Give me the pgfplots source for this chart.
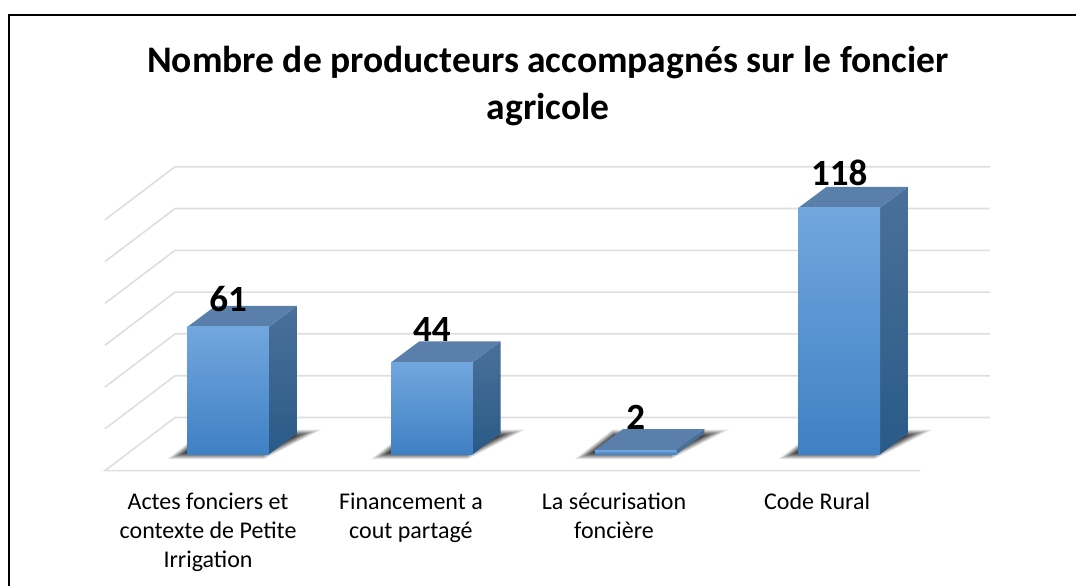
\documentclass[border=0pt]{standalone}
\usepackage{fontspec}
\setmainfont{Carlito}
\usepackage{pgfplots}
\pgfplotsset{compat=1.18}
\usepackage{pgfplotstable}
\definecolor{gridc}{HTML}{DEDEDE}
\definecolor{frontT}{HTML}{72A7DE}
\definecolor{frontM}{HTML}{5498DC}
\definecolor{frontB}{HTML}{3F80C4}
\definecolor{sideT}{HTML}{4A7099}
\definecolor{sideB}{HTML}{2A5A88}
\definecolor{topc}{HTML}{5A7FAA}
\pgfplotstableread{
x y
-0.185 1.5
-0.100 8
0.295 8
0.165 1.5
}\ombre
\newcommand{\shadowlayer}[3]{%
  \addplot[draw=black,draw opacity=#3,line width=#2pt,line join=miter,miter limit=10] table[x expr=\thisrow{x}+#1,y=y]{\ombre} --cycle;
}
\newcommand{\shadowat}[1]{%
  \shadowlayer{#1}{16}{.10}
  \shadowlayer{#1}{14}{.13}
  \shadowlayer{#1}{12}{.16}
  \shadowlayer{#1}{10}{.19}
  \shadowlayer{#1}{8}{.21}
  \shadowlayer{#1}{6}{.23}
  \shadowlayer{#1}{4}{.25}
  \shadowlayer{#1}{2}{.27}
  \addplot[draw=none,fill=black!80,fill opacity=.85] table[x expr=\thisrow{x}+#1,y=y]{\ombre} --cycle;
}
\pgfplotsset{
  frontbar/.style={ybar,bar width=0.4,bar shift=0pt,draw=none,shade,top color=frontT,middle color=frontM,bottom color=frontB,
    nodes near coords={\fontsize{37}{37}\selectfont\bfseries\pgfmathprintnumber[assume math mode=true]{\pgfplotspointmeta}},
    every node near coord/.append style={text=black,anchor=center,inner sep=0pt,yshift=#1}}
}
\begin{document}
\begin{tikzpicture}[x=1pt,y=1pt]
\path[use as bounding box] (0,0) rectangle (1076,586);
\begin{axis}[
  at={(0,0)},anchor=south west,
  width=1076pt,height=586pt,scale only axis,
  xmin=-1.1203,xmax=4.1620,ymin=-63.01,ymax=217.37,
  clip=false,
  axis line style={draw=none},
  tick style={draw=none},
  ytick=\empty,
  xtick={-0.099,0.897,1.894,2.891},
  xticklabels={{Actes fonciers et\\contexte de Petite\\Irrigation},{Financement a\\cout partagé},{La sécurisation\\foncière},{Code Rural}},
  xticklabel style={font={\fontsize{24}{29}\selectfont},align=flush center,text width=195pt,anchor=north,yshift=97pt},
  title={Nombre de producteurs accompagnés sur le foncier\\agricole},
  title style={at={(0.5093,1)},anchor=north,yshift=-49pt,align=flush center,text width=1000pt,font={\bfseries\fontsize{37.5}{47}\selectfont}},
]
\pgfplotsset{every axis plot/.append style={forget plot}}
% grid walls
\addplot[gridc,line width=1.6pt] coordinates {(-0.605,112.2)(-0.261,137.6)(3.739,137.6)};
\addplot[gridc,line width=1.6pt] coordinates {(-0.605,92.2)(-0.261,117.6)(3.739,117.6)};
\addplot[gridc,line width=1.6pt] coordinates {(-0.605,72.2)(-0.261,97.6)(3.739,97.6)};
\addplot[gridc,line width=1.6pt] coordinates {(-0.605,52.2)(-0.261,77.6)(3.739,77.6)};
\addplot[gridc,line width=1.6pt] coordinates {(-0.605,32.2)(-0.261,57.6)(3.739,57.6)};
\addplot[gridc,line width=1.6pt] coordinates {(-0.605,12.2)(-0.261,37.6)(3.739,37.6)};
\addplot[gridc,line width=1.6pt] coordinates {(3.396,-7.8)(-0.605,-7.8)(-0.261,17.6)(3.739,17.6)};
% shadows
\shadowat{0}
\shadowat{1}
\shadowat{2}
\shadowat{3}
% side faces
\addplot[draw=none,shade,top color=sideT,bottom color=sideB] coordinates {(0.2,0)(0.2,61)(0.3375,71)(0.3375,10)} --cycle;
\addplot[draw=none,shade,top color=sideT,bottom color=sideB] coordinates {(1.2,0)(1.2,44)(1.3375,54)(1.3375,10)} --cycle;
\addplot[draw=none,fill=sideT] coordinates {(2.2,0)(2.2,2)(2.3375,12)(2.3375,10)} --cycle;
\addplot[draw=none,shade,top color=sideT,bottom color=sideB] coordinates {(3.2,0)(3.2,118)(3.3375,128)(3.3375,10)} --cycle;
% top faces
\addplot[draw=none,fill=topc] coordinates {(-0.2,61)(0.2,61)(0.3375,71)(-0.0625,71)} --cycle;
\addplot[draw=none,fill=topc] coordinates {(0.8,44)(1.2,44)(1.3375,54)(0.9375,54)} --cycle;
\addplot[draw=none,fill=topc] coordinates {(1.8,2)(2.2,2)(2.3375,12)(1.9375,12)} --cycle;
\addplot[draw=none,fill=topc] coordinates {(2.8,118)(3.2,118)(3.3375,128)(2.9375,128)} --cycle;
% front faces
\addplot[frontbar=28pt] coordinates {(0,61)};
\addplot[frontbar=33pt] coordinates {(1,44)};
\addplot[frontbar=33pt] coordinates {(2,2)};
\addplot[frontbar=35pt] coordinates {(3,118)};
\end{axis}
\draw[black,line width=2pt] (9,0) -- (9,570.5) -- (1076,570.5);
\end{tikzpicture}
\end{document}
